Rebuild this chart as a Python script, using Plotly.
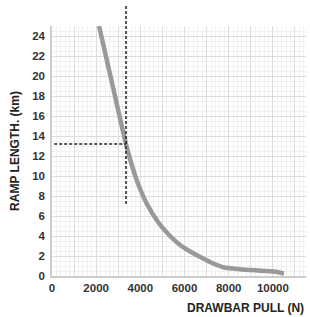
import plotly.graph_objects as go

# Curve data: drawbar pull (N) vs ramp length (km)
pull_n = [2130, 2800, 3350, 3600, 3900, 4300, 4800, 5300, 5800, 6300, 6800, 7300, 7800, 8500, 9500, 10200, 10500]
ramp_km = [25.0, 18.5, 13.2, 11.2, 9.2, 7.2, 5.4, 4.1, 3.1, 2.4, 1.8, 1.25, 0.85, 0.68, 0.52, 0.4, 0.25]

# Reference marker (operating point)
mark_x = 3350
mark_y = 13.2
mark_v_low = 7.2
mark_v_high = 27.1

x_tickvals = [0, 1000, 2000, 3000, 4000, 5000, 6000, 7000, 8000, 9000, 10000, 11000]
x_ticktext = ["0", "", "2000", "", "4000", "", "6000", "", "8000", "", "10000", ""]
y_tickvals = [0, 2, 4, 6, 8, 10, 12, 14, 16, 18, 20, 22, 24]

x_range = [0, 11500]
y_range = [0, 25]

FONT = "Arial, Liberation Sans, sans-serif"

fig = go.Figure()
fig.add_trace(go.Scatter(
    x=pull_n, y=ramp_km, mode="lines",
    line=dict(color="#999999", width=4.5, shape="spline", smoothing=0.6),
    hoverinfo="skip", showlegend=False,
))

# horizontal dashed line
fig.add_shape(type="line", xref="x", yref="y",
              x0=x_range[0] + 100, x1=mark_x, y0=mark_y, y1=mark_y,
              line=dict(color="#222222", width=1.5, dash="3px,2px"), layer="above")
# vertical dashed line, extends above plot
fig.add_shape(type="line", xref="x", yref="paper",
              x0=mark_x, x1=mark_x,
              y0=mark_v_low / y_range[1], y1=mark_v_high / y_range[1],
              line=dict(color="#222222", width=1.5, dash="3px,2px"), layer="above")

fig.add_annotation(text="DRAWBAR PULL (N)", xref="paper", yref="paper",
                   x=1.0, y=-0.09, xanchor="right", yanchor="top", showarrow=False,
                   font=dict(family=FONT, size=12, color="#222222", weight="bold"))

fig.update_layout(
    width=310, height=317,
    margin=dict(l=52, r=4, t=26, b=41, autoexpand=False),
    paper_bgcolor="white", plot_bgcolor="white",
    font=dict(family=FONT, size=11, color="#333333"),
    xaxis=dict(
        range=x_range, tickmode="array", tickvals=x_tickvals, ticktext=x_ticktext,
        showgrid=True, gridcolor="#dddddd", gridwidth=1,
        minor=dict(dtick=200, showgrid=True, gridcolor="#f1f1f1", gridwidth=1),
        showline=True, linecolor="#cccccc", linewidth=1.5, zeroline=False,
        tickfont=dict(family=FONT, size=11.5, color="#333333", weight="bold"),
        ticks="", fixedrange=True,
    ),
    yaxis=dict(
        range=y_range, tickmode="array", tickvals=y_tickvals,
        showgrid=True, gridcolor="#dddddd", gridwidth=1,
        minor=dict(dtick=0.5, showgrid=True, gridcolor="#f1f1f1", gridwidth=1),
        showline=True, linecolor="#cccccc", linewidth=1.5, zeroline=False,
        tickfont=dict(family=FONT, size=11.5, color="#333333", weight="bold"),
        ticks="", ticklabelstandoff=3,
        title=dict(text="RAMP LENGTH. (km)", standoff=10,
                   font=dict(family=FONT, size=12, color="#222222", weight="bold")),
        fixedrange=True,
    ),
)

fig.write_html("out.html", config={"displayModeBar": False},
               post_script="document.body.style.margin='0';document.body.style.overflow='hidden';")
